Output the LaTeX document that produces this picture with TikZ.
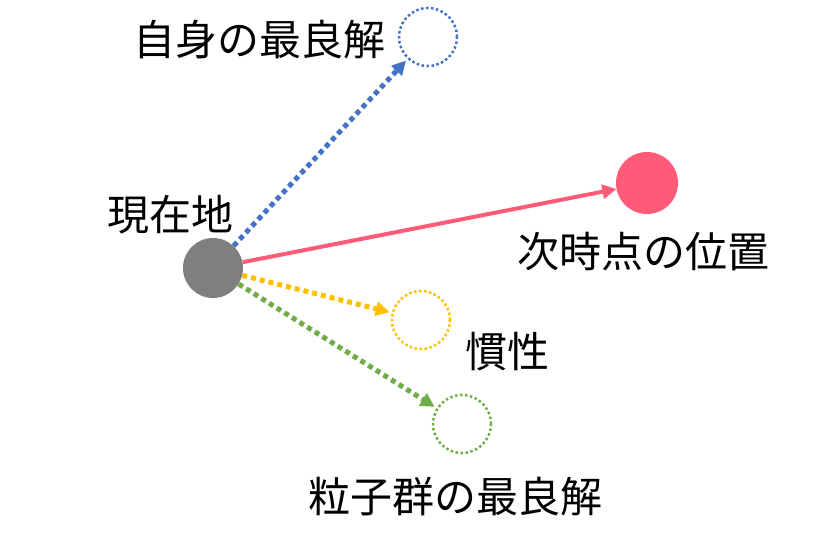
\documentclass[tikz,border=0pt]{standalone}
\usepackage{fontspec}
\setmainfont{Noto Sans CJK JP}
\usetikzlibrary{arrows.meta}
\definecolor{cblue}{HTML}{4472C4}
\definecolor{cpink}{HTML}{FF5A78}
\definecolor{cyel}{HTML}{FFC000}
\definecolor{cgreen}{HTML}{70AD47}
\definecolor{cgray}{HTML}{7F7F7F}
\tikzset{
  dotc/.style={circle,minimum size=58pt,inner sep=0pt,draw=#1,line width=2.5pt,dash pattern=on 2.5pt off 2.5pt},
  dotarr/.style={draw=#1,line width=5pt,dash pattern=on 5pt off 4pt,-{Triangle[length=14pt,width=14pt]},shorten >=2pt},
  lab/.style={font=\fontsize{42}{46}\selectfont}
}
\begin{document}
\begin{tikzpicture}[x=1pt,y=-1pt]
\useasboundingbox (0,0) rectangle (814,545);
\node[circle,fill=cgray,minimum size=60pt,inner sep=0pt] (g) at (213,268) {};
\node[dotc=cblue] (b) at (428,37) {};
\node[circle,fill=cpink,minimum size=62pt,inner sep=0pt] (p) at (647,183) {};
\node[dotc=cyel] (y) at (421,320) {};
\node[dotc=cgreen] (gr) at (462,424) {};
\draw[dotarr=cblue] (g) -- (b);
\draw[dotarr=cyel] (g) -- (y);
\draw[dotarr=cgreen] (g) -- (gr);
\draw[cpink,line width=4pt,-{Triangle[length=14pt,width=14pt]}] (g) -- (p);
\node[lab] (t1) at (259,40) {自身の最良解};
\node[lab] (t2) at (170,215) {現在地};
\node[lab] (t3) at (643,252) {次時点の位置};
\node[lab] (t4) at (507,352) {慣性};
\node[lab] (t5) at (455,497) {粒子群の最良解};
\end{tikzpicture}
\end{document}
